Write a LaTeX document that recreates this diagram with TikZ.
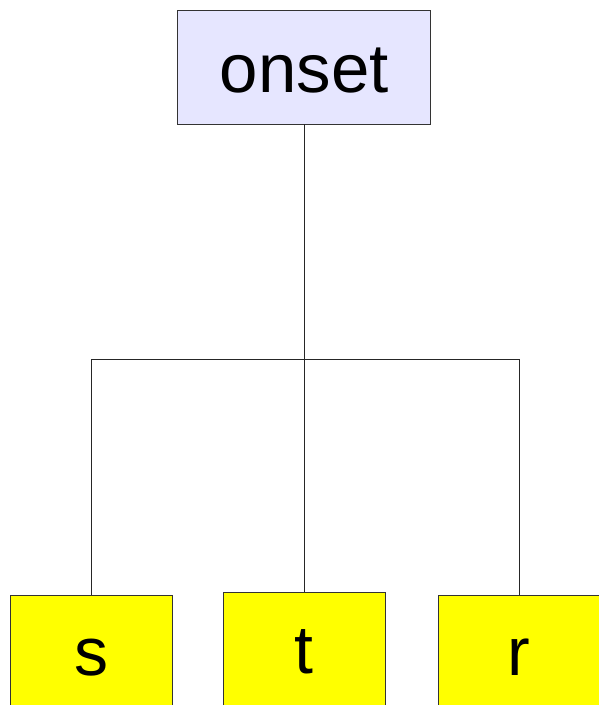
\documentclass[tikz,border=0pt]{standalone}
\usepackage{fontspec}
\setmainfont{Liberation Sans}
\definecolor{lav}{HTML}{E6E6FF}
\definecolor{yel}{HTML}{FFFF00}
\begin{document}
\begin{tikzpicture}[x=1pt,y=-1pt,
  topbox/.style={draw=black!80,fill=lav,line width=0.8pt,minimum width=253pt,minimum height=114pt,inner sep=0pt,text height=50pt,text depth=0pt,font=\fontsize{69}{69}\selectfont},
  leafbox/.style={draw=black!80,fill=yel,line width=0.8pt,minimum width=162pt,minimum height=120pt,inner sep=0pt,text depth=0pt,font=\fontsize{68}{68}\selectfont},
  conn/.style={draw=black!85,line width=0.8pt}]
\useasboundingbox (0,0) rectangle (598,705);
\node[topbox] (onset) at (304.3,67) {onset};
\node[leafbox,text height=40pt] (s) at (91,655) {s};
\node[leafbox,text height=42pt] (t) at (304.3,652) {t};
\node[leafbox,text height=40pt] (r) at (519,655) {r};
\coordinate (j) at (304.3,359);
\coordinate (jl) at (91,359);
\coordinate (jr) at (519,359);
\draw[conn,line width=1.1pt] (onset.south) -- (j);
\draw[conn] (jl) -- (jr);
\draw[conn] (jl) -- (s.north);
\draw[conn] (j) -- (t.north);
\draw[conn] (jr) -- (r.north);
\end{tikzpicture}
\end{document}
